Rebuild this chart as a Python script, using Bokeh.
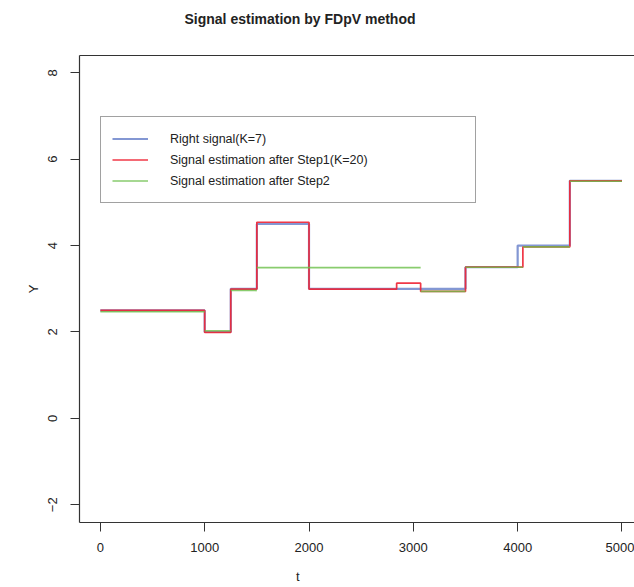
from bokeh.plotting import figure
from bokeh.models import Range1d, FixedTicker, LinearAxis, Title
from bokeh.embed import file_html
from bokeh.resources import INLINE

# ---- data ----
right_t = [0, 1000, 1250, 1500, 2000, 3500, 4000, 4500, 5000]
right_y = [2.5, 2.0, 3.0, 4.5, 3.0, 3.5, 4.0, 5.5, 5.5]

step1_t = [0, 1000, 1250, 1500, 2000, 2840, 3070, 3500, 4050, 4500, 5000]
step1_y = [2.5, 1.99, 2.99, 4.54, 2.99, 3.13, 2.94, 3.5, 3.97, 5.5, 5.5]

# step 2 estimate: horizontal pieces only
step2_start = [0, 1000, 1250, 1500, 3070, 3500, 4050, 4500]
step2_end = [1000, 1250, 1500, 3070, 3500, 4050, 4500, 5000]
step2_y = [2.47, 2.03, 2.96, 3.49, 2.94, 3.5, 3.97, 5.49]

x_ticks = [0, 1000, 2000, 3000, 4000, 5000]
y_ticks = [-2, 0, 2, 4, 6, 8]

FONT = "Liberation Sans"
DARK = "#333333"
TEXT = "#222222"
X_TITLE_AT = 1893   # x position (data units) where the t label is centred

p = figure(width=634, height=587, output_backend="svg", toolbar_location=None,
           x_range=Range1d(-200, 5120), y_range=Range1d(-2.41, 8.40),
           min_border_left=79, min_border_right=0, min_border_top=55,
           min_border_bottom=65)
p.outline_line_color = None
p.grid.visible = False
p.background_fill_color = "white"
p.border_fill_color = "white"

p.step(right_t, right_y, mode="after", line_color="#5A74C4", line_width=2.2,
       line_alpha=0.75, legend_label="Right signal(K=7)")
p.step(step1_t, step1_y, mode="after", line_color="#EE2233", line_width=1.7,
       line_alpha=0.9, legend_label="Signal estimation after Step1(K=20)")
p.segment(x0=step2_start, x1=step2_end, y0=step2_y, y1=step2_y,
          line_color="#6CBF4A", line_width=1.6, line_alpha=0.8,
          legend_label="Signal estimation after Step2")

for ax in (p.xaxis[0], p.yaxis[0]):
    ax.axis_line_color = DARK
    ax.axis_line_width = 1.2
    ax.major_tick_line_color = DARK
    ax.major_tick_out = 9
    ax.major_tick_in = 0
    ax.minor_tick_line_color = None
    ax.major_label_text_font = FONT
    ax.major_label_text_font_size = "13px"
    ax.major_label_text_color = TEXT

p.xaxis[0].major_label_standoff = 11
p.yaxis[0].major_label_standoff = 13
p.xaxis[0].ticker = FixedTicker(ticks=x_ticks)
p.yaxis[0].ticker = FixedTicker(ticks=y_ticks)
p.yaxis[0].major_label_orientation = "vertical"
p.yaxis[0].major_label_overrides = {-2: "\u22122"}

# top edge of the box
top = LinearAxis(axis_line_color=DARK, axis_line_width=1.2,
                 major_tick_line_color=None, minor_tick_line_color=None,
                 major_label_text_font_size="0px")
top.ticker = FixedTicker(ticks=[])
p.add_layout(top, "above")
# blank spacer between the frame and the main title
p.add_layout(Title(text="\u00a0", text_font_size="11px"), "above")

# x-axis title "t", centred where the original put it
xlab = LinearAxis(axis_line_color=None, major_tick_line_color=None,
                  minor_tick_line_color=None, major_tick_out=0,
                  major_label_standoff=14, major_label_text_font=FONT,
                  major_label_text_font_size="13px",
                  major_label_text_color=TEXT)
xlab.ticker = FixedTicker(ticks=[X_TITLE_AT])
xlab.major_label_overrides = {X_TITLE_AT: "t"}
p.add_layout(xlab, "below")

# main title
p.title.text = "Signal estimation by FDpV method"
p.title.align = "left"
p.title.offset = 105
p.title.text_font = FONT
p.title.text_font_size = "14px"
p.title.text_font_style = "bold"
p.title.text_color = TEXT

p.add_layout(Title(text="Y", align="center", text_font=FONT,
                   text_font_size="13px", text_font_style="normal",
                   text_color=TEXT, standoff=9), "left")

lg = p.legend[0]
lg.location = (21, 319)
lg.border_line_color = "#444444"
lg.border_line_width = 1.2
lg.background_fill_alpha = 1.0
lg.padding = 11
lg.spacing = 0
lg.margin = 0
lg.glyph_width = 36
lg.glyph_height = 21
lg.label_height = 21
lg.label_standoff = 22
lg.label_width = 294
lg.label_text_font = FONT
lg.label_text_font_size = "12.5px"
lg.label_text_color = TEXT

open("out.html", "w").write(file_html(p, INLINE))
